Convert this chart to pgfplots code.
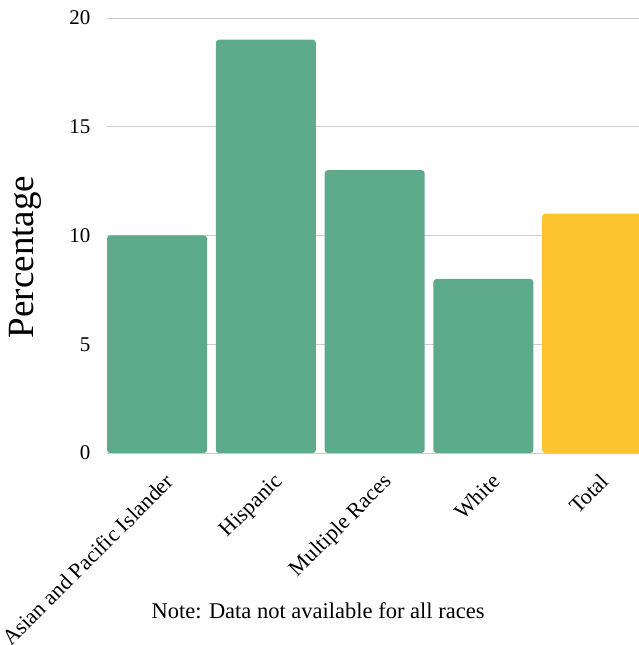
\documentclass[border=0pt]{standalone}
\usepackage{fontspec}
\setmainfont{Liberation Serif}
\usepackage{pgfplots}
\pgfplotsset{compat=1.18}
\definecolor{barGreen}{HTML}{5EAB8B}
\definecolor{barYellow}{HTML}{FFC530}
\definecolor{gridGray}{HTML}{CCCCCC}
\begin{document}
\begin{tikzpicture}[x=1pt,y=1pt]
\useasboundingbox (0,0) rectangle (639,645);
\begin{axis}[
  at={(107pt,192pt)}, anchor=south west,
  scale only axis, width=532pt, height=435pt,
  xmin=-0.46, xmax=4.43, ymin=0, ymax=20,
  ybar, bar width=100pt,
  axis line style={draw=none},
  major tick length=0pt,
  ymajorgrids, grid style={gridGray, line width=0.8pt},
  ytick={0,5,10,15,20},
  xtick={0,1,2,3,4},
  xticklabels={Asian and Pacific Islander,Hispanic,Multiple Races,White,Total},
  /pgf/number format/assume math mode=true,
  yticklabel style={font=\fontsize{21}{23}\selectfont, xshift=-13pt},
  xticklabel style={font=\fontsize{22}{24}\selectfont, rotate=45, anchor=north east, xshift=-5pt, yshift=-15pt},
  clip=false,
]
\addplot[fill=barGreen, draw=none, bar shift=0pt, rounded corners=3pt]
  coordinates {(0,10) (1,19) (2,13) (3,8)};
\addplot[fill=barYellow, draw=none, bar shift=0pt, rounded corners=3pt]
  coordinates {(4,11)};
\end{axis}
\node[rotate=90, font=\fontsize{37}{40}\selectfont] at (25,388) {Percentage};
\node[font=\fontsize{22.5}{25}\selectfont] at (318,34) {Note: Data not available for all races};
\end{tikzpicture}
\end{document}
